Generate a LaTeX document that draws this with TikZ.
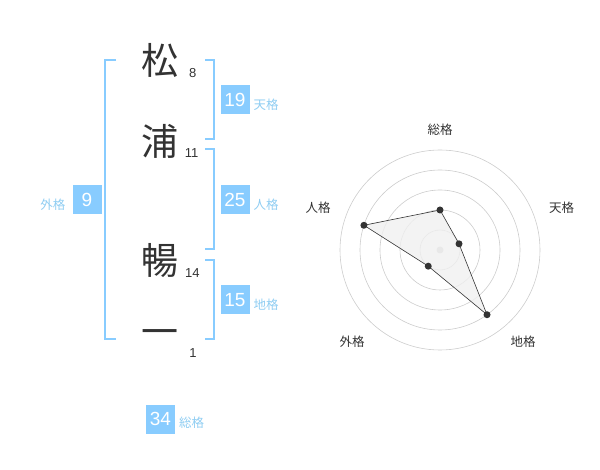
\documentclass[tikz,border=0pt]{standalone}
\usepackage{fontspec}
\usetikzlibrary{calc}
\setmainfont{Liberation Sans}
\newfontfamily\jp{Noto Sans CJK JP}
\definecolor{blu}{HTML}{88CCFF}
\definecolor{blulab}{HTML}{8FCDF2}
\definecolor{ink}{HTML}{333333}
\definecolor{ring}{HTML}{CCCCCC}
\begin{document}
\begin{tikzpicture}[x=1pt,y=-1pt,
  kanji/.style={inner sep=0pt,text=ink,font=\jp\fontsize{37}{37}\selectfont},
  stroke/.style={inner sep=0pt,text=ink,font=\fontsize{13}{13}\selectfont},
  bx/.style={fill=blu,minimum width=29pt,minimum height=29pt,inner sep=0pt,text=white,font=\fontsize{19}{19}\selectfont},
  lab/.style={inner sep=0pt,text=blulab,font=\jp\fontsize{12.5}{12.5}\selectfont},
  rlab/.style={inner sep=0pt,text=ink,font=\jp\fontsize{12.5}{12.5}\selectfont},
  brk/.style={draw=blu,line width=2pt},
  dot/.style={circle,fill=ink,inner sep=0pt,minimum size=7pt}]
\useasboundingbox (0,0) rectangle (600,470);
% characters
\node[kanji] (k1) at (160,60) {松};
\node[kanji] (k2) at (160,141) {浦};
\node[kanji] (k3) at (160,261) {暢};
\node[kanji] (k4) at (160,338) {一};
\node[stroke] (s1) at (192.7,72.7) {8};
\node[stroke] (s2) at (191.7,153.3) {11};
\node[stroke] (s3) at (192.3,272.7) {14};
\node[stroke] (s4) at (193,352.7) {1};
% brackets
\draw[brk] (116,60) -- (105,60) -- (105,339.3) -- (116,339.3);
\draw[brk] (205,60) -- (214.3,60) -- (214.3,139.3) -- (205,139.3);
\draw[brk] (205,149.3) -- (214.3,149.3) -- (214.3,249.3) -- (205,249.3);
\draw[brk] (205,260) -- (214.3,260) -- (214.3,339.3) -- (205,339.3);
% boxes
\node[bx] (ten) at (235,100) {19};
\node[lab,anchor=west] (tenl) at (253.5,104.5) {天格};
\node[bx] (jin) at (235,200) {25};
\node[lab,anchor=west] (jinl) at (253.5,204.5) {人格};
\node[bx] (chi) at (235,300) {15};
\node[lab,anchor=west] (chil) at (253.5,304.5) {地格};
\node[bx] (gai) at (87,200) {9};
\node[lab,anchor=east] (gail) at (65.5,204.5) {外格};
\node[bx] (sou) at (160.5,419) {34};
\node[lab,anchor=west] (soul) at (179,423) {総格};
% radar
\coordinate (c) at (440,250);
\foreach \r in {20,40,60,80,100} \draw[ring,line width=0.6pt] (c) circle[radius=\r];
\fill[ring] (c) circle[radius=3.5];
\coordinate (p1) at ($(c)+(0,-40)$);
\coordinate (p2) at ($(c)+({20*cos(18)},{-20*sin(18)})$);
\coordinate (p3) at ($(c)+({80*cos(54)},{80*sin(54)})$);
\coordinate (p4) at ($(c)+({-20*cos(54)},{20*sin(54)})$);
\coordinate (p5) at ($(c)+({-80*cos(18)},{-80*sin(18)})$);
\draw[fill=black!6,fill opacity=0.8,draw=ink,line width=0.6pt] (p1) -- (p2) -- (p3) -- (p4) -- (p5) -- cycle;
\foreach \p in {p1,p2,p3,p4,p5} \node[dot] at (\p) {};
\node[rlab] (r1) at (440,130) {総格};
\node[rlab] (r2) at (561.7,208) {天格};
\node[rlab] (r3) at (523,342) {地格};
\node[rlab] (r4) at (352,342) {外格};
\node[rlab] (r5) at (318,208) {人格};
\end{tikzpicture}
\end{document}
